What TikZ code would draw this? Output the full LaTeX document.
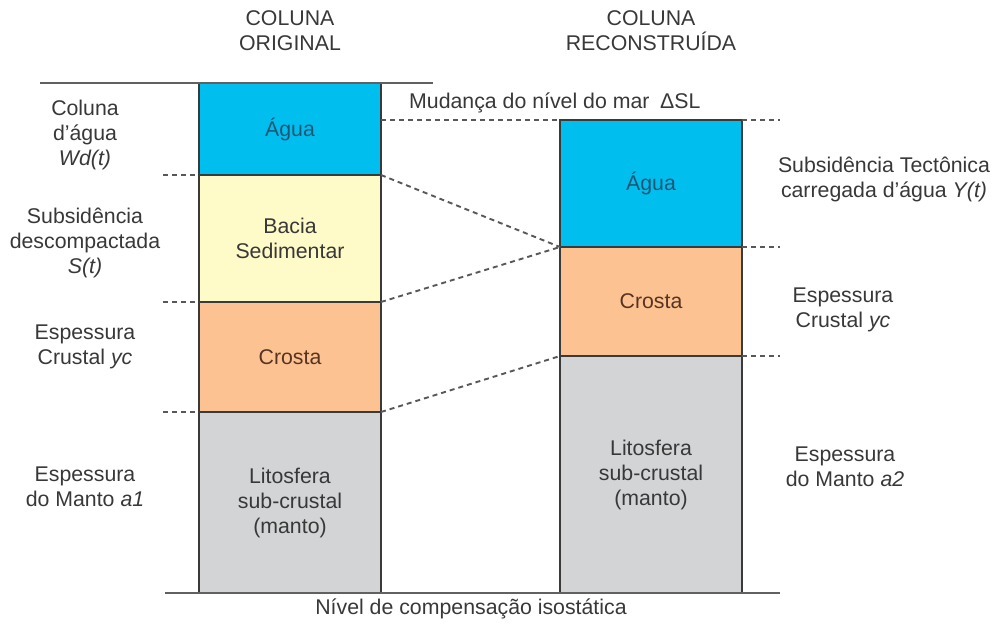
\documentclass[tikz,border=0pt]{standalone}
\usepackage{fontspec}
\setmainfont{Liberation Sans}
\usetikzlibrary{positioning}

\definecolor{agua}{HTML}{00BFEF}
\definecolor{sedim}{HTML}{FFFBC8}
\definecolor{crosta}{HTML}{FCC291}
\definecolor{manto}{HTML}{D2D4D6}
\definecolor{borda}{HTML}{3A3A3A}
\definecolor{texto}{HTML}{383838}
\definecolor{textoagua}{HTML}{1D5674}
\definecolor{textocrosta}{HTML}{573422}

\tikzset{
  layer/.style={draw=borda, line width=1.4pt, minimum width=182pt, inner sep=0pt, outer sep=0pt, align=center},
  tracejado/.style={draw=borda!85, line width=1.9pt, dash pattern=on 5pt off 4pt},
  nivel/.style={draw=borda!80, line width=1.6pt},
  rotulo/.style={align=center, text=texto, inner sep=0pt},
}

\begin{document}
\begin{tikzpicture}[x=1pt, y=-1pt, font=\fontsize{21.3}{25}\selectfont]
        \useasboundingbox (0,0) rectangle (995,626);

        % coluna original
        \node[layer, fill=agua, text=textoagua, minimum height=92pt, anchor=north] (agua1) at (290,83) {Água};
        \node[layer, fill=sedim, text=texto, minimum height=127pt, below=0pt of agua1] (sed1) {Bacia\\Sedimentar};
        \node[layer, fill=crosta, text=textocrosta, minimum height=110pt, below=0pt of sed1] (crosta1) {Crosta};
        \node[layer, fill=manto, text=texto, minimum height=181pt, below=0pt of crosta1] (manto1) {Litosfera\\sub-crustal\\(manto)};

        % coluna reconstruida
        \node[layer, fill=agua, text=textoagua, minimum height=127pt, anchor=north] (agua2) at (651,120) {Água};
        \node[layer, fill=crosta, text=textocrosta, minimum height=109pt, below=0pt of agua2] (crosta2) {Crosta};
        \node[layer, fill=manto, text=texto, minimum height=237pt, below=0pt of crosta2] (manto2) {Litosfera\\sub-crustal\\(manto)};

        % titulos
        \node[rotulo] (tit1) at (290,31) {COLUNA\\ORIGINAL};
        \node[rotulo] (tit2) at (651,31) {COLUNA\\RECONSTRUÍDA};

        % linhas de nivel
        \coordinate (topoE) at (40,83);
        \coordinate (topoD) at (433,83);
        \coordinate (baseE) at (165,593);
        \coordinate (baseD) at (780,593);
        \coordinate (iniE) at (163,0);
        \coordinate (fimD) at (780,0);
        \draw[nivel] (topoE) -- (topoD);
        \draw[nivel] (baseE) -- (baseD);

        % tracejados
        \draw[tracejado] (agua1.east |- agua2.north) -- (agua2.north west);
        \draw[tracejado] (agua2.north east) -- (fimD |- agua2.north);
        \draw[tracejado] (agua2.south east) -- (fimD |- agua2.south);
        \draw[tracejado] (crosta2.south east) -- (fimD |- crosta2.south);
        \draw[tracejado] (iniE |- agua1.south) -- (agua1.south west);
        \draw[tracejado] (iniE |- sed1.south) -- (sed1.south west);
        \draw[tracejado] (iniE |- crosta1.south) -- (crosta1.south west);
        \draw[tracejado] (agua1.south east) -- (agua2.south west);
        \draw[tracejado] (sed1.south east) -- (agua2.south west);
        \draw[tracejado] (crosta1.south east) -- (crosta2.south west);

        % rotulos da esquerda
        \node[rotulo] (wd) at (85,135) {Coluna\\d'água\\\textit{Wd(t)}};
        \node[rotulo] (st) at (85,243) {Subsidência\\descompactada\\\textit{S(t)}};
        \node[rotulo] (yc1) at (85,347) {Espessura\\Crustal \textit{yc}};
        \node[rotulo] (a1) at (85,487) {Espessura\\do Manto \textit{a1}};

        % rotulos da direita
        \node[rotulo, anchor=west] (dsl) at (409,103) {Mudança do nível do mar\hspace{0.5em}ΔSL};
        \node[rotulo] (yt) at (884,179) {Subsidência Tectônica\\carregada d'água \textit{Y(t)}};
        \node[rotulo] (yc2) at (843,310) {Espessura\\Crustal \textit{yc}};
        \node[rotulo] (a2) at (845,467) {Espessura\\do Manto \textit{a2}};
        \node[rotulo] (comp) at (471,609) {Nível de compensação isostática};
\end{tikzpicture}
\end{document}
